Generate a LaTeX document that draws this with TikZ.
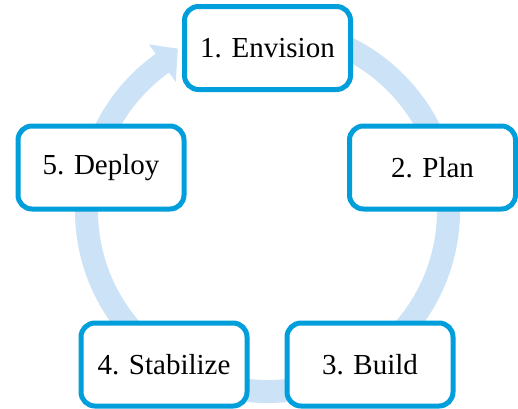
\documentclass[tikz,border=0pt]{standalone}
\usepackage{fontspec}
\setmainfont{Liberation Serif}
\definecolor{boxblue}{RGB}{0,158,219}
\definecolor{ringblue}{RGB}{204,226,246}
\begin{document}
\begin{tikzpicture}[x=1pt,y=-1pt,
  stage/.style={draw=boxblue, line width=5pt, rounded corners=14pt, fill=white,
    minimum width=166pt, minimum height=83pt, inner sep=0pt,
    font=\fontsize{29}{34}\selectfont},
  ring/.style={draw=ringblue, line width=23pt}]
\useasboundingbox (0,0) rectangle (518,408);
\coordinate (c) at (267.5,210.5);
\draw[ring] ([shift={(85:181pt)}]c) arc[start angle=85, end angle=-234.5, radius=181pt];
\fill[ringblue] ([shift={(125.5:204pt)}]c) -- ([shift={(119:185pt)}]c) -- ([shift={(125.5:158pt)}]c) -- cycle;
\node[stage] (n1) at (267.5,48) {1. Envision};
\node[stage] (n2) at (432.5,167.5) {2. Plan};
\node[stage] (n3) at (370,364.5) {3. Build};
\node[stage] (n4) at (164,364.5) {4. Stabilize};
\node[stage] (n5) at (101,167.5) {5. Deploy};
\end{tikzpicture}
\end{document}
